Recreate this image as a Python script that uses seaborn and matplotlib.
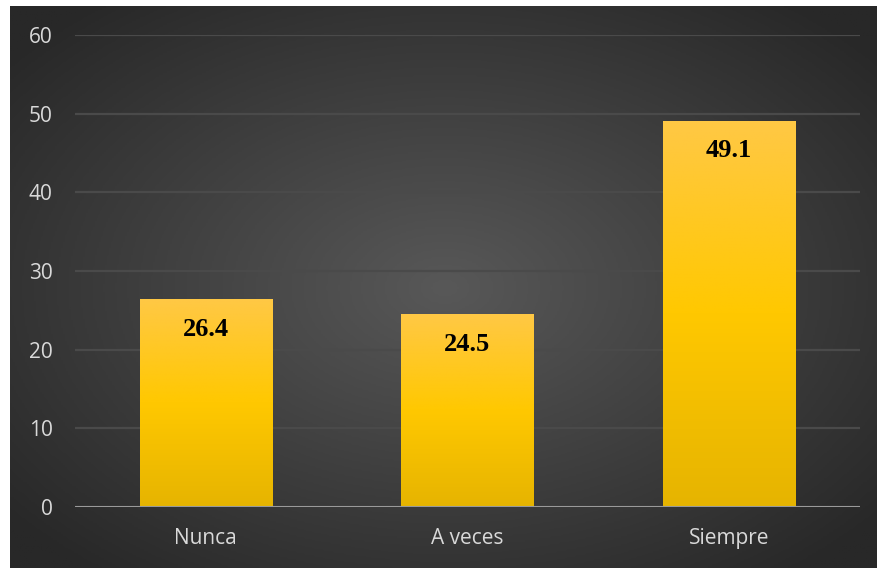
import numpy as np
import pandas as pd
import matplotlib
matplotlib.use("Agg")
import matplotlib.pyplot as plt
import seaborn as sns
from matplotlib.colors import LinearSegmentedColormap

categories = ["Nunca", "A veces", "Siempre"]
values = [26.4, 24.5, 49.1]
yticks = [0, 10, 20, 30, 40, 50, 60]

df = pd.DataFrame({"cat": categories, "val": values})

sns.set_theme(style="white")
plt.rcParams['font.family'] = ['Open Sans', 'DejaVu Sans']

W, H = 878, 568
fig = plt.figure(figsize=(W / 100, H / 100), dpi=100, facecolor="white")

# dark background with radial gradient
bg = fig.add_axes([10 / W, 0, 868 / W, 562 / H])
bg.set_axis_off()
ny, nx = 300, 460
yy, xx = np.mgrid[0:ny, 0:nx]
cx, cy = nx * 0.5, ny * 0.5
r = np.sqrt(((xx - cx) / (nx * 0.65)) ** 2 + ((yy - cy) / (ny * 0.65)) ** 2)
r = np.clip(r, 0, 1)
bg_cmap = LinearSegmentedColormap.from_list("bg", ["#585858", "#404040", "#282828"])
bg.imshow(r, cmap=bg_cmap, aspect="auto", extent=[0, 1, 0, 1], vmin=0, vmax=1)
bg.set_xlim(0, 1)
bg.set_ylim(0, 1)

ax = fig.add_axes([75 / W, 61 / H, 785 / W, 472 / H])
ax.patch.set_alpha(0)
sns.barplot(data=df, x="cat", y="val", ax=ax, color="#FFC800", width=0.505,
            saturation=1, errorbar=None, zorder=3)

ax.set_ylim(0, 60)
ax.set_xlim(-0.5, 2.5)
ax.set_yticks(yticks)
ax.set_yticklabels([str(t) for t in yticks])
ax.set_xlabel("")
ax.set_ylabel("")
for s in ax.spines.values():
    s.set_visible(False)
ax.grid(axis="y", color="#4a4a4a", linewidth=1.6, zorder=0)
ax.axhline(0, color="#9a9a9a", linewidth=2.2, zorder=5)
ax.tick_params(axis="both", length=0, colors="#d9d9d9", labelsize=15)
ax.tick_params(axis="y", pad=16)
ax.tick_params(axis="x", pad=15)

bar_cmap = LinearSegmentedColormap.from_list("bar", ["#E6B400", "#FFC800", "#FFC845"])
grad = np.linspace(0, 1, 256).reshape(-1, 1)
for p, v in zip(ax.patches, values):
    x0, w = p.get_x(), p.get_width()
    p.set_facecolor("none")
    p.set_edgecolor("none")
    im = ax.imshow(grad, cmap=bar_cmap, aspect="auto", origin="lower",
                   extent=[x0, x0 + w, 0, v], zorder=3)
    im.set_clip_path(p)
    ax.text(x0 + w / 2, v - 3.8, f"{v:.1f}", ha="center", va="center",
            fontsize=19, fontweight="bold", color="black",
            family=["Liberation Serif", "DejaVu Serif"], zorder=6)

ax.set_xlim(-0.5, 2.5)
ax.set_ylim(0, 60)

fig.savefig("out.png", dpi=100, facecolor="white")
